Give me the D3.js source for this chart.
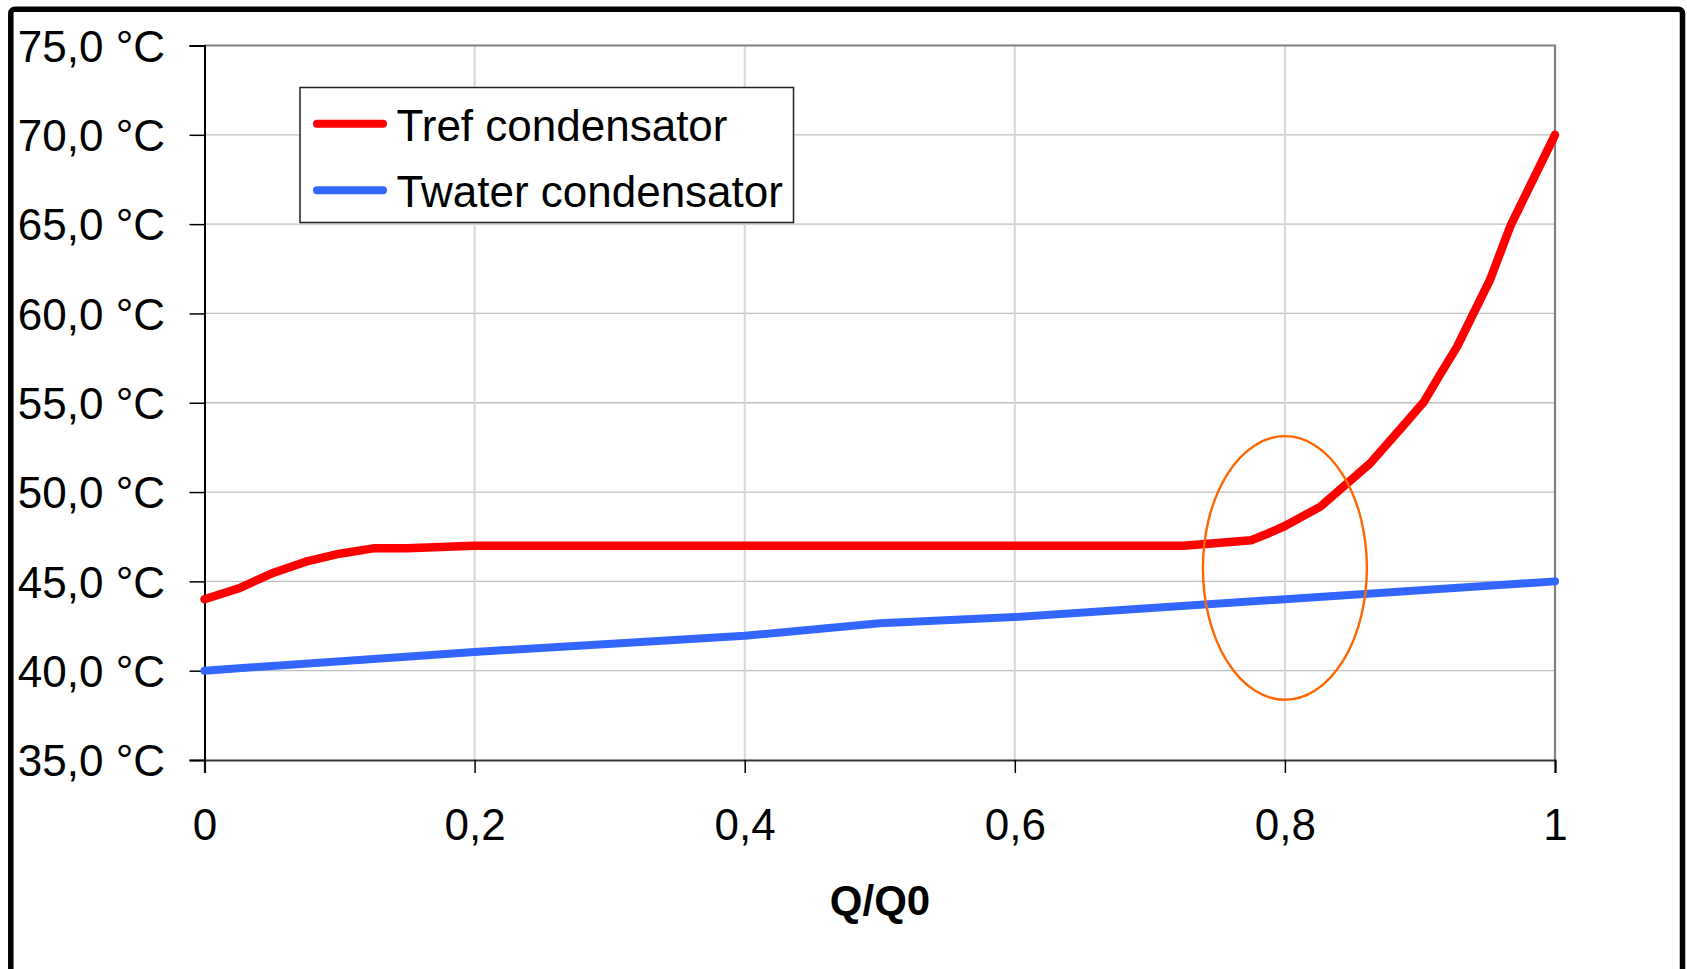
<!DOCTYPE html>
<html>
<head>
<meta charset="utf-8">
<script src="https://cdn.jsdelivr.net/npm/d3@7"></script>
<style>
  html, body { margin: 0; padding: 0; background: #fff; }
  svg { display: block; font-family: "Liberation Sans", Arial, sans-serif; }
</style>
</head>
<body>
<svg id="chart" width="1687" height="969"></svg>
<script>
// ---- data ----
const trefX = [0, 0.025, 0.05, 0.075, 0.1, 0.125, 0.15, 0.2, 0.725, 0.775, 0.7875, 0.8, 0.826, 0.863, 0.888, 0.903, 0.914, 0.9275, 0.952, 0.967, 1.0];
const trefY = [44.0, 44.6, 45.45, 46.1, 46.55, 46.85, 46.85, 47.0, 47.0, 47.3, 47.68, 48.1, 49.17, 51.6, 53.75, 55.06, 56.46, 58.14, 61.9, 64.9, 70.0];
const twaterX = [0, 0.2, 0.4, 0.5, 0.6, 0.8, 1.0];
const twaterY = [40.0, 41.05, 41.95, 42.65, 43.0, 44.0, 45.0];
const seriesNames = ["Tref condensator", "Twater condensator"];
const xTicks = [0, 0.2, 0.4, 0.6, 0.8, 1];
const xTickLabels = ["0", "0,2", "0,4", "0,6", "0,8", "1"];
const yTicks = [35, 40, 45, 50, 55, 60, 65, 70, 75];
const yTickLabels = ["35,0 °C", "40,0 °C", "45,0 °C", "50,0 °C", "55,0 °C", "60,0 °C", "65,0 °C", "70,0 °C", "75,0 °C"];
const xTitle = "Q/Q0";
// highlighted region (centre and half-extents in data units)
const highlightCenter = [0.8, 45.75];
const highlightHalf = [0.0607, 7.38];

// ---- layout ----
const svg = d3.select("#chart");
const x = d3.scaleLinear().domain([0, 1]).range([204.5, 1555]);
const y = d3.scaleLinear().domain([35, 75]).range([760, 45.5]);
const FONT = 44;

// outer frame
svg.append("rect")
  .attr("x", 10.8).attr("y", 9.2)
  .attr("width", 1682.5 - 10.8).attr("height", 1100)
  .attr("rx", 4).attr("ry", 4)
  .attr("fill", "none").attr("stroke", "#000").attr("stroke-width", 5.5);

// gridlines
svg.append("g").selectAll("line").data(yTicks.slice(1, -1)).join("line")
  .attr("x1", x(0)).attr("x2", x(1))
  .attr("y1", d => y(d)).attr("y2", d => y(d))
  .attr("stroke", "#c0c0c0").attr("stroke-width", 1.3);
svg.append("g").selectAll("line").data(xTicks.slice(1, -1)).join("line")
  .attr("x1", d => x(d)).attr("x2", d => x(d))
  .attr("y1", y(35)).attr("y2", y(75))
  .attr("stroke", "#d6d6d6").attr("stroke-width", 2);

// plot frame top/right (gray)
svg.append("path")
  .attr("d", `M${x(0)},${y(75)}H${x(1)}V${y(35)}`)
  .attr("fill", "none").attr("stroke", "#808080").attr("stroke-width", 2.2);

// axes
const yAxis = d3.axisLeft(y).tickValues(yTicks)
  .tickFormat((d, i) => yTickLabels[i]).tickSize(15).tickPadding(24.5);
const gy = svg.append("g").attr("transform", `translate(${x(0)},0)`).call(yAxis);
gy.select(".domain").attr("stroke", "#000").attr("stroke-width", 2);
gy.selectAll(".tick line").attr("stroke", "#000").attr("stroke-width", 1.5);
gy.selectAll(".tick text").attr("font-size", FONT).attr("fill", "#000")
  .attr("font-family", "Liberation Sans, Arial, sans-serif").attr("dy", "0.36em");

const xAxis = d3.axisBottom(x).tickValues(xTicks)
  .tickFormat((d, i) => xTickLabels[i]).tickSize(13).tickPadding(35.3);
const gx = svg.append("g").attr("transform", `translate(0,${y(35)})`).call(xAxis);
gx.select(".domain").attr("stroke", "#333").attr("stroke-width", 2.2);
gx.selectAll(".tick line").attr("stroke", "#000").attr("stroke-width", 1.5);
gx.selectAll(".tick text").attr("font-size", FONT).attr("fill", "#000")
  .attr("font-family", "Liberation Sans, Arial, sans-serif");

// x axis title
svg.append("text")
  .attr("x", 880).attr("y", 915)
  .attr("text-anchor", "middle")
  .attr("font-size", 42).attr("font-weight", "bold")
  .text(xTitle);

// series
const line = d3.line().x(d => x(d[0])).y(d => y(d[1]));
const trefPts = trefX.map((v, i) => [v, trefY[i]]);
const twaterPts = twaterX.map((v, i) => [v, twaterY[i]]);
svg.append("path").datum(twaterPts).attr("d", line)
  .attr("fill", "none").attr("stroke", "#3366ff").attr("stroke-width", 8)
  .attr("stroke-linecap", "round").attr("stroke-linejoin", "round");
svg.append("path").datum(trefPts).attr("d", line)
  .attr("fill", "none").attr("stroke", "#ff0000").attr("stroke-width", 8.5)
  .attr("stroke-linecap", "round").attr("stroke-linejoin", "round");

// highlight ellipse
svg.append("ellipse")
  .attr("cx", x(highlightCenter[0])).attr("cy", y(highlightCenter[1]))
  .attr("rx", x(highlightHalf[0]) - x(0))
  .attr("ry", y(35) - y(35 + highlightHalf[1]))
  .attr("fill", "none").attr("stroke", "#ff6600").attr("stroke-width", 2.4);

// legend
const lg = svg.append("g");
lg.append("rect").attr("x", 300).attr("y", 87.5).attr("width", 493.5).attr("height", 135)
  .attr("fill", "#fff").attr("stroke", "#222").attr("stroke-width", 1.5);
const legendColors = ["#ff0000", "#3366ff"];
const legendBase = [140.7, 207.3];
seriesNames.forEach((name, i) => {
  lg.append("line").attr("x1", 317).attr("x2", 383)
    .attr("y1", legendBase[i] - 17).attr("y2", legendBase[i] - 17)
    .attr("stroke", legendColors[i]).attr("stroke-width", 8).attr("stroke-linecap", "round");
  lg.append("text").attr("x", 396.5).attr("y", legendBase[i])
    .attr("font-size", FONT).attr("fill", "#000").text(name);
});
</script>
</body>
</html>
